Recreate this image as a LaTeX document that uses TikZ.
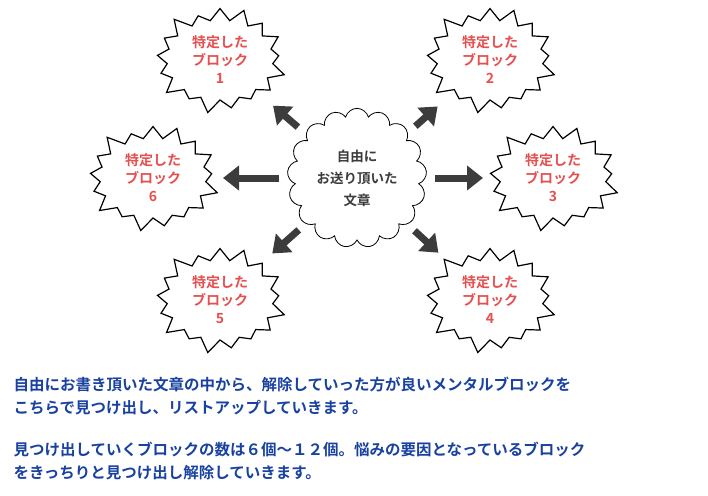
\documentclass[tikz,border=0pt]{standalone}
\usepackage{fontspec}
\newfontfamily\jp{Noto Sans CJK JP Bold}
\usetikzlibrary{shapes.symbols,arrows.meta}
\definecolor{blk}{RGB}{230,80,80}
\definecolor{txt}{RGB}{25,65,160}
\definecolor{arr}{RGB}{60,60,60}

\begin{document}
\begin{tikzpicture}[x=1pt,y=-1pt]
\tikzstyle{block}=[starburst,starburst points=17,starburst point height=16pt,draw,very thick,fill=white,
  minimum width=138pt,minimum height=112pt,inner sep=0pt,align=center,
  font=\jp\fontsize{14}{18}\selectfont,text=blk]
\tikzstyle{bigarrow}=[draw=arr,line width=7pt,-{Triangle[length=16pt,width=24pt]},shorten <=78pt,shorten >=70pt]

\useasboundingbox (0,0) rectangle (708,495);
\node[cloud,cloud puffs=17,draw,thick,minimum width=130pt,minimum height=112pt,align=center,
  font=\jp\fontsize{13.5}{22}\selectfont,text=arr] (c) at (357,178) {自由に\\お送り頂いた\\文章};
\node[block] (s1) at (220,60)  {特定した\\ブロック\\1};
\node[block] (s2) at (490,60)  {特定した\\ブロック\\2};
\node[block] (s3) at (553,178) {特定した\\ブロック\\3};
\node[block] (s4) at (490,300) {特定した\\ブロック\\4};
\node[block] (s5) at (220,300) {特定した\\ブロック\\5};
\node[block] (s6) at (153,178) {特定した\\ブロック\\6};

\foreach \s in {s1,s2,s3,s4,s5,s6}
  \draw[bigarrow] (c.center) -- (\s.center);

% description
\node[anchor=west,align=left,text=txt,font=\jp\fontsize{15.5}{23}\selectfont] (t1) at (10,396)
  {自由にお書き頂いた文章の中から、解除していった方が良いメンタルブロックを\\こちらで見つけ出し、リストアップしていきます。};
\node[anchor=west,align=left,text=txt,font=\jp\fontsize{15.5}{23}\selectfont] (t2) at (10,461)
  {見つけ出していくブロックの数は６個〜１２個。悩みの要因となっているブロック\\をきっちりと見つけ出し解除していきます。};
\end{tikzpicture}
\end{document}
